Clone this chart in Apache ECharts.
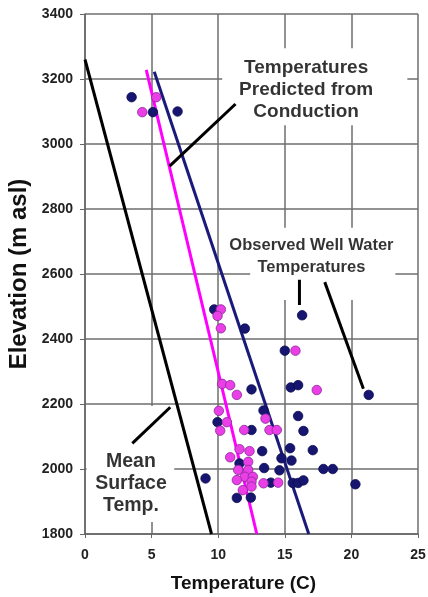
<!DOCTYPE html>
<html>
<head>
<meta charset="utf-8">
<script src="https://cdn.jsdelivr.net/npm/echarts@6/dist/echarts.min.js"></script>
<style>
  html, body { margin: 0; padding: 0; background: #fff; }
  #chart { width: 428px; height: 597px; }
</style>
</head>
<body>
<div id="chart"></div>
<script>
// Axis ranges and ticks
const xTicks = [0, 5, 10, 15, 20, 25];
const yTicks = [1800, 2000, 2200, 2400, 2600, 2800, 3000, 3200, 3400];

// Reference gradients: [temperature C, elevation m]
const meanSurfaceLine = [[0, 3260], [9.5, 1800]];
const conductionLow = [[4.6, 3228], [12.9, 1800]];
const conductionHigh = [[5.2, 3222], [16.8, 1800]];

// Observed well water temperatures, two groups
const wellsBlue = [
  [3.5, 3144], [5.1, 3098], [6.95, 3100],
  [9.7, 2491], [12.0, 2432], [16.3, 2473], [15.0, 2364], [21.3, 2228],
  [12.5, 2245], [15.45, 2251], [16.0, 2258], [13.4, 2180], [9.95, 2144],
  [12.5, 2120], [16.0, 2163], [16.4, 2117], [15.4, 2064], [17.1, 2058],
  [13.3, 2055], [14.75, 2033], [15.5, 2026], [13.45, 2003], [14.6, 1996],
  [17.9, 2000], [18.6, 2000], [13.95, 1958], [15.6, 1957], [16.0, 1957],
  [16.4, 1965], [9.05, 1971], [20.3, 1953], [11.6, 2017], [11.4, 1911],
  [12.45, 1912]
];
const wellsPink = [
  [5.35, 3144], [4.3, 3098],
  [10.2, 2491], [9.95, 2471], [10.2, 2433], [15.8, 2364],
  [10.3, 2262], [10.9, 2258], [11.4, 2228], [17.4, 2243], [10.05, 2179],
  [10.65, 2144], [10.15, 2118], [11.95, 2120], [13.55, 2155], [13.85, 2120],
  [14.4, 2120], [10.9, 2036], [11.6, 2061], [12.35, 2055], [12.25, 2022],
  [11.5, 1997], [12.25, 1997], [12.0, 1976], [12.6, 1976], [11.4, 1966],
  [12.5, 1961], [11.85, 1935], [12.5, 1946], [13.4, 1956], [14.5, 1958]
];

// White panels behind annotation text: [[x0, y0], [x1, y1]]
const labelPanels = [
  [[10.3, 3295], [24.2, 3058]],
  [[12.4, 2742], [23.3, 2520]],
  [[0.12, 2194], [6.7, 1837]]
];

// Leader lines from annotations to marks
const leaderConduction = [[11.3, 3123], [6.35, 2932]];
const leaderWellsShort = [[16.1, 2582], [16.1, 2505]];
const leaderWellsLong = [[18.0, 2575], [20.9, 2247]];
const leaderSurface = [[6.4, 2190], [3.55, 2079]];

// Annotation texts and their anchor points
const noteTexts = [
  'Temperatures\nPredicted from\nConduction',
  'Observed Well Water\nTemperatures',
  'Mean\nSurface\nTemp.'
];
const noteAnchors = [[16.6, 3166], [17.0, 2655], [3.45, 1955]];
const noteFontSizes = [19, 16.5, 19.5];

const FONT = 'Liberation Sans, Arial, Helvetica, sans-serif';
const chart = echarts.init(document.getElementById('chart'), null, { renderer: 'canvas' });

function lineSeries(data, color, z) {
  return {
    type: 'line', data: data, z: z, symbol: 'none', silent: true,
    lineStyle: { color: color, width: 3 }, animation: false
  };
}

const option = {
  backgroundColor: '#ffffff',
  animation: false,
  grid: { left: 85, right: 10, top: 14, bottom: 63, containLabel: false, outerBoundsMode: 'none' },
  xAxis: {
    type: 'value', min: xTicks[0], max: xTicks[xTicks.length - 1], interval: 5,
    name: 'Temperature (C)', nameLocation: 'middle', nameGap: 40,
    nameTextStyle: { fontFamily: FONT, fontWeight: 'bold', fontSize: 19, color: '#111', padding: [0, 16, 0, 0] },
    axisLine: { show: true, lineStyle: { color: '#666', width: 1.5 } },
    axisTick: { show: true, length: 4, lineStyle: { color: '#666' } },
    axisLabel: { fontFamily: FONT, fontWeight: 'bold', fontSize: 14, color: '#222', margin: 14 },
    splitLine: { show: true, lineStyle: { color: '#6e6e6e', width: 1.5 } }
  },
  yAxis: {
    type: 'value', min: yTicks[0], max: yTicks[yTicks.length - 1], interval: 200,
    name: 'Elevation (m asl)', nameLocation: 'middle', nameGap: 53, nameRotate: 90,
    nameTextStyle: { fontFamily: FONT, fontWeight: 'bold', fontSize: 24, color: '#111' },
    axisLine: { show: true, lineStyle: { color: '#666', width: 1.5 } },
    axisTick: { show: true, length: 5, lineStyle: { color: '#666' } },
    axisLabel: {
      fontFamily: FONT, fontWeight: 'bold', fontSize: 14, color: '#222', margin: 12,
      formatter: v => String(v)
    },
    splitLine: { show: true, lineStyle: { color: '#6e6e6e', width: 1.5 } }
  },
  series: [
    {
      type: 'line', data: [], z: 1, silent: true,
      markArea: {
        silent: true,
        itemStyle: { color: '#ffffff', opacity: 1 },
        label: { show: false },
        data: labelPanels.map(p => [{ coord: p[0] }, { coord: p[1] }])
      }
    },
    lineSeries(meanSurfaceLine, '#000000', 2),
    lineSeries(conductionLow, '#ff00ff', 2),
    lineSeries(conductionHigh, '#1a1a7a', 2),
    {
      type: 'scatter', data: wellsBlue, z: 3, symbolSize: 9.5,
      itemStyle: { color: '#161670', borderColor: '#0c0c50', borderWidth: 0.8, opacity: 1 }
    },
    {
      type: 'scatter', data: wellsPink, z: 3, symbolSize: 9.5,
      itemStyle: { color: '#ea3ee6', borderColor: '#8a2a9a', borderWidth: 0.8, opacity: 1 }
    },
    lineSeries(leaderConduction, '#000000', 4),
    lineSeries(leaderWellsShort, '#000000', 4),
    lineSeries(leaderWellsLong, '#000000', 4),
    lineSeries(leaderSurface, '#000000', 4),
    {
      type: 'scatter', z: 5, symbolSize: 0, silent: true,
      data: noteTexts.map((t, i) => ({
        value: noteAnchors[i], name: t,
        label: { fontSize: noteFontSizes[i] }
      })),
      label: {
        show: true, position: 'inside', formatter: p => p.name,
        fontFamily: FONT, fontWeight: 'bold', fontSize: 18, lineHeight: 22,
        color: '#000', align: 'center', verticalAlign: 'middle'
      }
    }
  ]
};

chart.setOption(option);
</script>
</body>
</html>
